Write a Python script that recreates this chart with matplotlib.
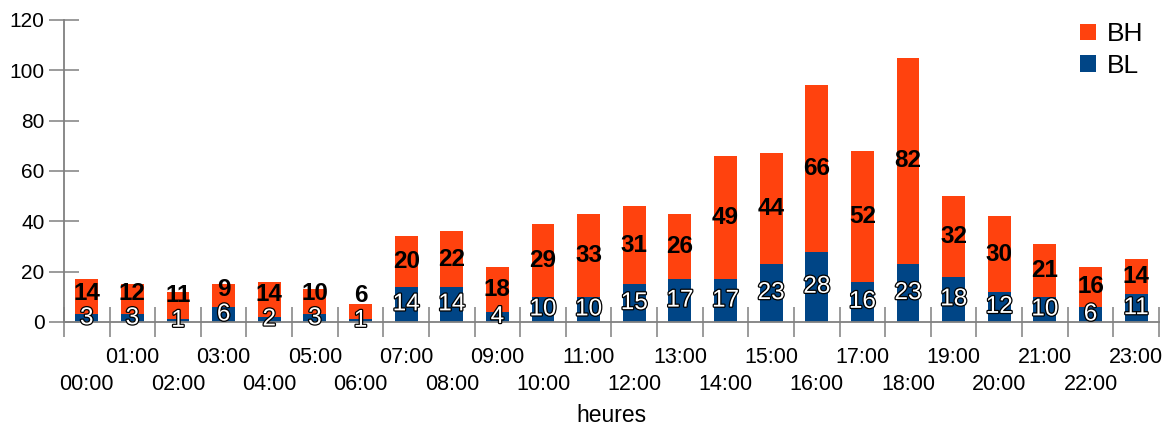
import matplotlib.pyplot as plt
import matplotlib.patheffects as pe
import matplotlib.transforms as mtransforms
import numpy as np

plt.rcParams['font.family'] = ['Liberation Sans', 'DejaVu Sans']

heures = ['%02d:00' % h for h in range(24)]
bl = [3, 3, 1, 6, 2, 3, 1, 14, 14, 4, 10, 10, 15, 17, 17, 23, 28, 16, 23, 18, 12, 10, 6, 11]
bh = [14, 12, 11, 9, 14, 10, 6, 20, 22, 18, 29, 33, 31, 26, 49, 44, 66, 52, 82, 32, 30, 21, 16, 14]

c_bl = '#004586'
c_bh = '#ff420e'
gris = '#808080'

fig = plt.figure(figsize=(11.69, 4.28), dpi=100)
ax = fig.add_axes([0.0547, 0.2477, 0.9367, 0.7056])

x = np.arange(len(heures))
b1 = ax.bar(x, bl, width=0.5, color=c_bl, label='BL', zorder=2)
b2 = ax.bar(x, bh, width=0.5, bottom=bl, color=c_bh, label='BH', zorder=2)

# valeurs dans les barres
for i in range(len(heures)):
    ax.text(x[i], bl[i] / 2, str(bl[i]), ha='center', va='center',
            color='white', fontsize=17.5, zorder=4,
            path_effects=[pe.withStroke(linewidth=1.8, foreground='black')])
    yh = bl[i] + bh[i] / 2
    # petit segment : on remonte l'etiquette pour ne pas chevaucher
    yh = max(yh, bl[i] / 2 + 10)
    ax.text(x[i], yh, str(bh[i]), ha='center', va='center',
            color='black', fontsize=17.5, fontweight='bold', zorder=4)

ax.set_xlim(-0.5, len(heures) - 0.5)
ax.set_ylim(0, 120)
ax.set_yticks(range(0, 121, 20))

# ticks entre les categories
ax.set_xticks(np.arange(-0.5, len(heures), 1))
ax.set_xticklabels([])
ax.tick_params(axis='x', which='major', direction='inout', length=22, width=1.1, color=gris)
ax.tick_params(axis='y', direction='inout', length=22, width=1.1, color=gris, labelsize=15, pad=3)

# etiquettes sur deux rangees (impaires en haut, paires en bas)
trans = mtransforms.blended_transform_factory(ax.transData, ax.transAxes)
for i, h in enumerate(heures):
    off = -36 if i % 2 == 1 else -63
    ax.annotate(h, (x[i], 0), xycoords=trans, xytext=(0, off * 0.72),
                textcoords='offset points', ha='center', va='center',
                fontsize=15.5, annotation_clip=False)

for s in ['top', 'right']:
    ax.spines[s].set_visible(False)
for s in ['left', 'bottom']:
    ax.spines[s].set_color(gris)
    ax.spines[s].set_linewidth(1.3)
    ax.spines[s].set_zorder(3)

fig.text((ax.get_position().x0 + ax.get_position().x1) / 2, 1 - 415 / 428, 'heures',
         ha='center', va='center', fontsize=16.5)

ax.legend(handles=[b2, b1], loc='upper right', bbox_to_anchor=(1.0, 1.045),
          frameon=False, fontsize=19, handlelength=0.6, handleheight=0.6,
          handletextpad=0.4, labelspacing=0.3, borderaxespad=0.2)

fig.savefig('out.png', dpi=100)
